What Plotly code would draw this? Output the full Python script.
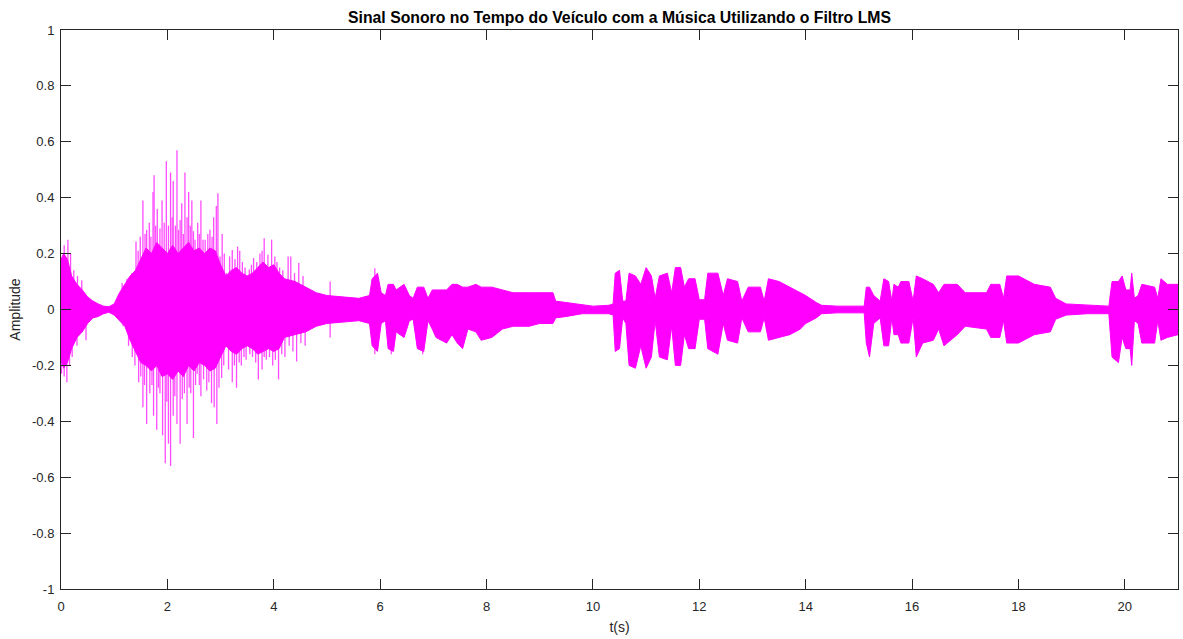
import plotly.graph_objects as go

# Envelope breakpoints of the dense band (time in s, upper amplitude, lower amplitude)
env_t = [0.00, 0.05, 0.12, 0.20, 0.30, 0.40, 0.50, 0.60, 0.70, 0.80, 0.90, 1.00, 1.10, 1.20, 1.30, 1.40,
         1.50, 1.60, 1.70, 1.80, 1.90, 2.00, 2.10, 2.20, 2.30, 2.40, 2.50, 2.60, 2.70, 2.80, 2.90,
         3.00, 3.10, 3.20, 3.30, 3.40, 3.50, 3.60, 3.70, 3.80, 3.90, 4.00, 4.10, 4.20, 4.40, 4.60,
         4.80, 5.00, 5.30, 5.60, 5.80, 5.85, 5.95, 6.02, 6.10, 6.15, 6.25, 6.30, 6.45, 6.55, 6.62, 6.70,
         6.82, 6.90, 6.98, 7.05, 7.25, 7.35, 7.45, 7.55, 7.65, 7.80, 7.90, 8.10, 8.30, 8.50, 8.80, 9.00,
         9.25, 9.30, 9.50, 9.80, 10.00, 10.30, 10.38, 10.42, 10.50, 10.56, 10.62, 10.68, 10.80, 10.90,
         11.00, 11.10, 11.17, 11.25, 11.40, 11.48, 11.55, 11.65, 11.72, 11.80, 11.92, 12.00, 12.10, 12.16,
         12.35, 12.45, 12.53, 12.72, 12.80, 12.92, 13.15, 13.22, 13.30, 13.50, 13.70, 13.90, 14.00, 14.20,
         14.30, 14.60, 15.10, 15.14, 15.20, 15.28, 15.40, 15.47, 15.56, 15.62, 15.66, 15.74, 15.79, 15.94,
         16.02, 16.08, 16.20, 16.40, 16.50, 16.60, 16.85, 17.00, 17.40, 17.48, 17.65, 17.72, 17.78, 18.00,
         18.30, 18.60, 18.70, 18.90, 19.30, 19.70, 19.76, 19.88, 19.95, 20.02, 20.10, 20.13, 20.18, 20.25,
         20.32, 20.56, 20.62, 20.68, 20.80, 21.00]
env_up = [0.18, 0.20, 0.18, 0.12, 0.09, 0.07, 0.045, 0.03, 0.02, 0.012, 0.01, 0.02, 0.06, 0.09, 0.12, 0.14,
          0.18, 0.22, 0.20, 0.24, 0.22, 0.20, 0.23, 0.20, 0.22, 0.24, 0.21, 0.22, 0.20, 0.22, 0.21,
          0.16, 0.12, 0.14, 0.15, 0.13, 0.12, 0.13, 0.15, 0.17, 0.15, 0.16, 0.13, 0.11, 0.10, 0.08,
          0.06, 0.05, 0.045, 0.04, 0.05, 0.11, 0.13, 0.06, 0.05, 0.09, 0.09, 0.07, 0.09, 0.05, 0.04, 0.08,
          0.08, 0.04, 0.07, 0.07, 0.07, 0.09, 0.09, 0.08, 0.08, 0.09, 0.08, 0.08, 0.07, 0.06, 0.06, 0.06,
          0.06, 0.03, 0.025, 0.015, 0.012, 0.015, 0.02, 0.13, 0.14, 0.03, 0.03, 0.13, 0.12, 0.09,
          0.15, 0.12, 0.04, 0.12, 0.13, 0.06, 0.15, 0.15, 0.08, 0.11, 0.11, 0.035, 0.035, 0.13,
          0.13, 0.05, 0.11, 0.10, 0.03, 0.08, 0.08, 0.03, 0.11, 0.10, 0.08, 0.06, 0.05, 0.025,
          0.015, 0.012, 0.012, 0.08, 0.08, 0.05, 0.03, 0.11, 0.10, 0.03, 0.09, 0.08, 0.10, 0.10,
          0.03, 0.12, 0.11, 0.09, 0.06, 0.09, 0.09, 0.06, 0.06, 0.09, 0.09, 0.04, 0.12, 0.12,
          0.09, 0.08, 0.04, 0.02, 0.015, 0.012, 0.10, 0.10, 0.12, 0.07, 0.07, 0.13, 0.04, 0.05,
          0.09, 0.08, 0.04, 0.11, 0.09, 0.09]
env_lo = [-0.18, -0.21, -0.19, -0.14, -0.10, -0.08, -0.05, -0.03, -0.025, -0.015, -0.01, -0.02, -0.04, -0.06, -0.11, -0.15,
          -0.19, -0.20, -0.22, -0.20, -0.24, -0.23, -0.25, -0.22, -0.24, -0.20, -0.22, -0.19, -0.20, -0.22, -0.21,
          -0.17, -0.13, -0.15, -0.16, -0.14, -0.13, -0.14, -0.16, -0.15, -0.14, -0.15, -0.14, -0.10, -0.09, -0.08,
          -0.06, -0.05, -0.045, -0.04, -0.05, -0.13, -0.15, -0.05, -0.04, -0.14, -0.15, -0.08, -0.10, -0.04, -0.035, -0.14,
          -0.15, -0.04, -0.07, -0.10, -0.12, -0.09, -0.12, -0.14, -0.07, -0.08, -0.11, -0.10, -0.07, -0.06, -0.06, -0.05,
          -0.05, -0.03, -0.025, -0.015, -0.015, -0.015, -0.02, -0.15, -0.14, -0.03, -0.05, -0.20, -0.21, -0.13,
          -0.21, -0.17, -0.04, -0.17, -0.18, -0.06, -0.20, -0.20, -0.09, -0.14, -0.14, -0.035, -0.035, -0.14,
          -0.16, -0.05, -0.11, -0.12, -0.03, -0.08, -0.08, -0.03, -0.11, -0.10, -0.09, -0.07, -0.05, -0.03,
          -0.015, -0.012, -0.012, -0.12, -0.17, -0.05, -0.03, -0.13, -0.13, -0.03, -0.09, -0.09, -0.12, -0.12,
          -0.03, -0.17, -0.12, -0.11, -0.07, -0.13, -0.09, -0.06, -0.07, -0.10, -0.10, -0.04, -0.12, -0.12,
          -0.09, -0.08, -0.035, -0.02, -0.015, -0.015, -0.17, -0.19, -0.10, -0.14, -0.14, -0.20, -0.04, -0.05,
          -0.12, -0.12, -0.04, -0.11, -0.10, -0.09]

# Individual spikes beyond the dense band (time in s, amplitude)
spike_up_t = [0.02, 0.06, 0.13, 0.18, 0.24, 0.31, 0.39, 1.15, 1.24, 1.33, 1.41, 1.45, 1.49, 1.54, 1.58, 1.61, 1.66,
              1.69, 1.73, 1.75, 1.78, 1.81, 1.86, 1.90, 1.94, 1.98, 2.02, 2.06, 2.09, 2.11, 2.15, 2.18, 2.21,
              2.24, 2.27, 2.30, 2.33, 2.37, 2.40, 2.43, 2.46, 2.49, 2.52, 2.57, 2.60, 2.63, 2.67, 2.71, 2.76,
              2.80, 2.84, 2.87, 2.92, 2.95, 2.99, 3.03, 3.07, 3.11, 3.17, 3.22, 3.27, 3.32, 3.36, 3.41, 3.46,
              3.54, 3.58, 3.62, 3.68, 3.74, 3.78, 3.82, 3.89, 3.96, 4.02, 4.06, 4.11, 4.17, 4.27, 4.32, 4.39,
              4.47, 4.55, 5.06, 5.90]
spike_up_v = [0.18, 0.23, 0.25, 0.20, 0.14, 0.12, 0.105, 0.095, 0.11, 0.13, 0.243, 0.21, 0.26, 0.39, 0.27, 0.285, 0.31,
              0.26, 0.42, 0.48, 0.30, 0.36, 0.29, 0.39, 0.31, 0.53, 0.30, 0.49, 0.33, 0.46, 0.30, 0.57, 0.285,
              0.32, 0.38, 0.27, 0.49, 0.33, 0.42, 0.30, 0.39, 0.28, 0.25, 0.31, 0.27, 0.39, 0.25, 0.25, 0.27,
              0.285, 0.26, 0.33, 0.37, 0.416, 0.19, 0.27, 0.20, 0.13, 0.19, 0.213, 0.18, 0.225, 0.21, 0.17, 0.15,
              0.143, 0.16, 0.184, 0.17, 0.20, 0.21, 0.255, 0.196, 0.25, 0.19, 0.17, 0.15, 0.14, 0.19, 0.19, 0.13,
              0.166, 0.12, 0.10, 0.148]
spike_lo_t = [0.01, 0.06, 0.11, 0.16, 0.21, 0.30, 0.47, 1.17, 1.27, 1.34, 1.39, 1.46, 1.50, 1.54, 1.57, 1.61, 1.67,
              1.71, 1.74, 1.80, 1.83, 1.86, 1.91, 1.96, 1.99, 2.02, 2.06, 2.11, 2.14, 2.18, 2.24, 2.28, 2.32,
              2.37, 2.41, 2.44, 2.49, 2.53, 2.56, 2.60, 2.63, 2.68, 2.74, 2.78, 2.83, 2.88, 2.93, 2.97, 3.02,
              3.06, 3.11, 3.15, 3.22, 3.26, 3.30, 3.35, 3.39, 3.44, 3.48, 3.55, 3.60, 3.66, 3.71, 3.78, 3.82,
              3.86, 3.92, 3.98, 4.03, 4.09, 4.15, 4.21, 4.29, 4.36, 4.43, 4.51, 4.59, 5.06, 5.90, 6.21, 6.80]
spike_lo_v = [-0.23, -0.24, -0.26, -0.20, -0.17, -0.13, -0.11, -0.06, -0.13, -0.17, -0.20, -0.26, -0.24, -0.35, -0.27, -0.41, -0.30,
              -0.27, -0.38, -0.43, -0.28, -0.30, -0.45, -0.55, -0.33, -0.48, -0.56, -0.38, -0.31, -0.41, -0.48, -0.32, -0.30,
              -0.41, -0.28, -0.30, -0.46, -0.27, -0.23, -0.27, -0.31, -0.25, -0.29, -0.26, -0.335, -0.35, -0.41, -0.28, -0.245,
              -0.20, -0.13, -0.215, -0.26, -0.20, -0.28, -0.19, -0.20, -0.17, -0.18, -0.16, -0.17, -0.19, -0.25, -0.215, -0.17,
              -0.18, -0.17, -0.20, -0.18, -0.25, -0.16, -0.17, -0.13, -0.15, -0.186, -0.12, -0.13, -0.10, -0.16, -0.16, -0.16]

x_ticks = [0, 2, 4, 6, 8, 10, 12, 14, 16, 18, 20]
y_ticks = [-1, -0.8, -0.6, -0.4, -0.2, 0, 0.2, 0.4, 0.6, 0.8, 1]
y_tick_text = ["-1", "-0.8", "-0.6", "-0.4", "-0.2", "0", "0.2", "0.4", "0.6", "0.8", "1"]

MAG = "#ff00ff"
AX = "#262626"
FONT = "Liberation Sans, Arial, sans-serif"

fig = go.Figure()
fig.add_trace(go.Scatter(x=env_t, y=env_lo, mode="lines", line=dict(color=MAG, width=1),
                         hoverinfo="skip", showlegend=False))
fig.add_trace(go.Scatter(x=env_t, y=env_up, mode="lines", line=dict(color=MAG, width=1),
                         fill="tonexty", fillcolor=MAG, hoverinfo="skip", showlegend=False))

sx, sy = [], []
for t, v in zip(spike_up_t, spike_up_v):
    sx += [t, t, None]
    sy += [0, v, None]
for t, v in zip(spike_lo_t, spike_lo_v):
    sx += [t, t, None]
    sy += [0, v, None]
fig.add_trace(go.Scatter(x=sx, y=sy, mode="lines", line=dict(color=MAG, width=1.3),
                         opacity=0.7, hoverinfo="skip", showlegend=False))

axis_common = dict(showline=True, linecolor=AX, linewidth=1, mirror="ticks", ticks="inside",
                   ticklen=10, tickcolor=AX, showgrid=False, zeroline=False,
                   tickfont=dict(family=FONT, size=13, color=AX))

fig.update_layout(
    width=1183, height=639,
    margin=dict(l=61, r=5, t=30, b=50),
    paper_bgcolor="white", plot_bgcolor="white",
    title=dict(text="<b>Sinal Sonoro no Tempo do Veículo com a Música Utilizando o Filtro LMS</b>",
               x=0.5, xref="paper", y=1 - 17 / 639, yref="container", yanchor="middle",
               font=dict(family=FONT, size=15.8, color="#000000")),
    xaxis=dict(range=[0, 21], tickvals=x_ticks, ticklabelstandoff=5,
               title=dict(text="t(s)", standoff=9, font=dict(family=FONT, size=14, color=AX)),
               **axis_common),
    yaxis=dict(range=[-1, 1], tickvals=y_ticks, ticktext=y_tick_text, ticklabelstandoff=3,
               title=dict(text="Amplitude", standoff=8, font=dict(family=FONT, size=14, color=AX)),
               **axis_common),
)

fig.write_html("out.html")
